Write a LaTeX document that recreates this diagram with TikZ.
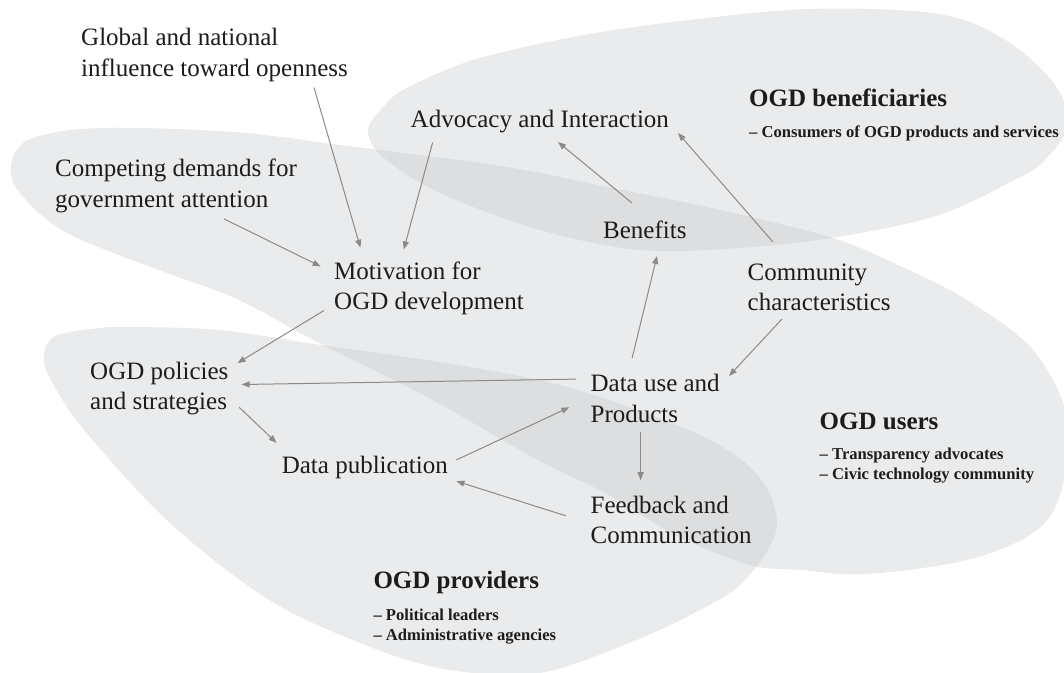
\documentclass[tikz,border=0pt]{standalone}
\usepackage{fontspec}
\setmainfont{Liberation Serif}
\usetikzlibrary{arrows.meta}
\definecolor{blob}{RGB}{233,235,236}
\definecolor{blobdark}{RGB}{220,222,223}
\definecolor{arrowgray}{RGB}{138,138,138}
\definecolor{ink}{RGB}{28,28,28}
\newcommand\pathUsers{plot[smooth cycle,tension=0.55] coordinates {(11,165) (30,139) (100,128) (233,132) (340,145) (507,167) (607,187) (707,207) (830,237) (900,266) (967,300) (1033,350) (1068,420) (1060,495) (1033,533) (967,560) (867,574) (800,570) (750,565) (679,537) (607,494) (536,459) (429,398) (321,344) (237,299) (167,273) (67,233) (20,193)}}
\newcommand\pathBene{plot[smooth cycle,tension=0.55] coordinates {(368,130) (385,105) (407,88) (473,60) (573,37) (673,22) (810,9) (939,14) (1007,41) (1055,85) (1068,125) (1045,160) (1020,177) (939,215) (837,237) (740,248) (640,250) (540,230) (440,193) (383,157)}}
\newcommand\pathProv{plot[smooth cycle,tension=0.55] coordinates {(44,356) (55,336) (100,328) (133,327) (220,330) (321,345) (464,366) (571,388) (679,426) (735,455) (765,485) (777,520) (769,548) (740,585) (700,610) (634,641) (540,673) (450,670) (373,648) (271,601) (170,523) (85,431) (51,380)}}
\begin{document}
\begin{tikzpicture}[x=1pt,y=-1pt,
  lbl/.style={anchor=west,inner sep=0pt,align=left,text=ink,font=\fontsize{25}{30.5}\selectfont},
  ttl/.style={anchor=west,inner sep=0pt,text=ink,font=\bfseries\fontsize{25}{30}\selectfont},
  sub/.style={anchor=west,inner sep=0pt,align=left,text=ink,font=\bfseries\fontsize{16.6}{20.3}\selectfont},
  arr/.style={draw=arrowgray,line width=1pt,-{Triangle[length=8pt,width=6pt]}}]
\useasboundingbox (0,0) rectangle (1064,672);
\clip (0,0) rectangle (1064,672);
\fill[white] (0,0) rectangle (1064,672);
% regions
\fill[blob] \pathUsers;
\fill[blob] \pathBene;
\fill[blob] \pathProv;
\begin{scope}
  \clip \pathUsers;
  \fill[blobdark] \pathBene;
  \fill[blobdark] \pathProv;
\end{scope}
% labels
\node[lbl] (glob)  at (81,54.8)   {Global and national\\influence toward openness};
\node[lbl] (comp)  at (55,185.8)  {Competing demands for\\government attention};
\node[lbl] (motiv) at (334,288.4) {Motivation for\\OGD development};
\node[lbl] (advoc) at (410.5,122) {Advocacy and Interaction};
\node[lbl] (benef) at (603,229.5) {Benefits};
\node[lbl] (comm)  at (747.5,287.5) {Community\\characteristics};
\node[lbl] (pol)   at (90,388.5)  {OGD policies\\and strategies};
\node[lbl] (pub)   at (281.6,467.5) {Data publication};
\node[lbl] (use)   at (590.4,398.2) {Data use and\\Products};
\node[lbl] (feed)  at (590.4,520) {Feedback and\\Communication};
% group titles
\node[ttl] (beneT)  at (749,98.2)  {OGD beneficiaries};
\node[sub] (beneS)  at (749,133)   {– Consumers of OGD products and services};
\node[ttl] (usersT) at (819.5,421) {OGD users};
\node[sub] (usersS) at (819.5,465.7) {– Transparency advocates\\– Civic technology community};
\node[ttl] (provT)  at (373.3,582.8) {OGD providers};
\node[sub] (provS)  at (373.3,626.8) {– Political leaders\\– Administrative agencies};
% connectors
\draw[arr] ([shift={(233,32.7)}]glob.west) -- ([shift={(26.4,-40.7)}]motiv.west);
\draw[arr] ([shift={(22.1,20.5)}]advoc.west) -- ([shift={(69.8,-39)}]motiv.west);
\draw[arr] ([shift={(169,33.1)}]comp.west) -- ([shift={(-13.3,-22)}]motiv.west);
\draw[arr] ([shift={(-10,22.1)}]motiv.west) -- ([shift={(147.5,-25.4)}]pol.west);
\draw[arr] ([shift={(-14.3,-19.1)}]use.west) -- ([shift={(151.6,-4)}]pol.west);
\draw[arr] ([shift={(149.2,18.8)}]pol.west) -- ([shift={(-5,-24.6)}]pub.west);
\draw[arr] ([shift={(174.8,-7.6)}]pub.west) -- ([shift={(-21.1,9.1)}]use.west);
\draw[arr] ([shift={(-24.5,-4.2)}]feed.west) -- ([shift={(174.8,13.7)}]pub.west);
\draw[arr] ([shift={(50.2,33.5)}]use.west) -- ([shift={(50.2,-39.8)}]feed.west);
\draw[arr] ([shift={(41.7,-40.1)}]use.west) -- ([shift={(54,26.5)}]benef.west);
\draw[arr] ([shift={(29,-26.5)}]benef.west) -- ([shift={(147.5,20)}]advoc.west);
\draw[arr] ([shift={(25.5,-45.5)}]comm.west) -- ([shift={(267.5,11)}]advoc.west);
\draw[arr] ([shift={(34.5,31.5)}]comm.west) -- ([shift={(138.6,-22.2)}]use.west);
\end{tikzpicture}
\end{document}
